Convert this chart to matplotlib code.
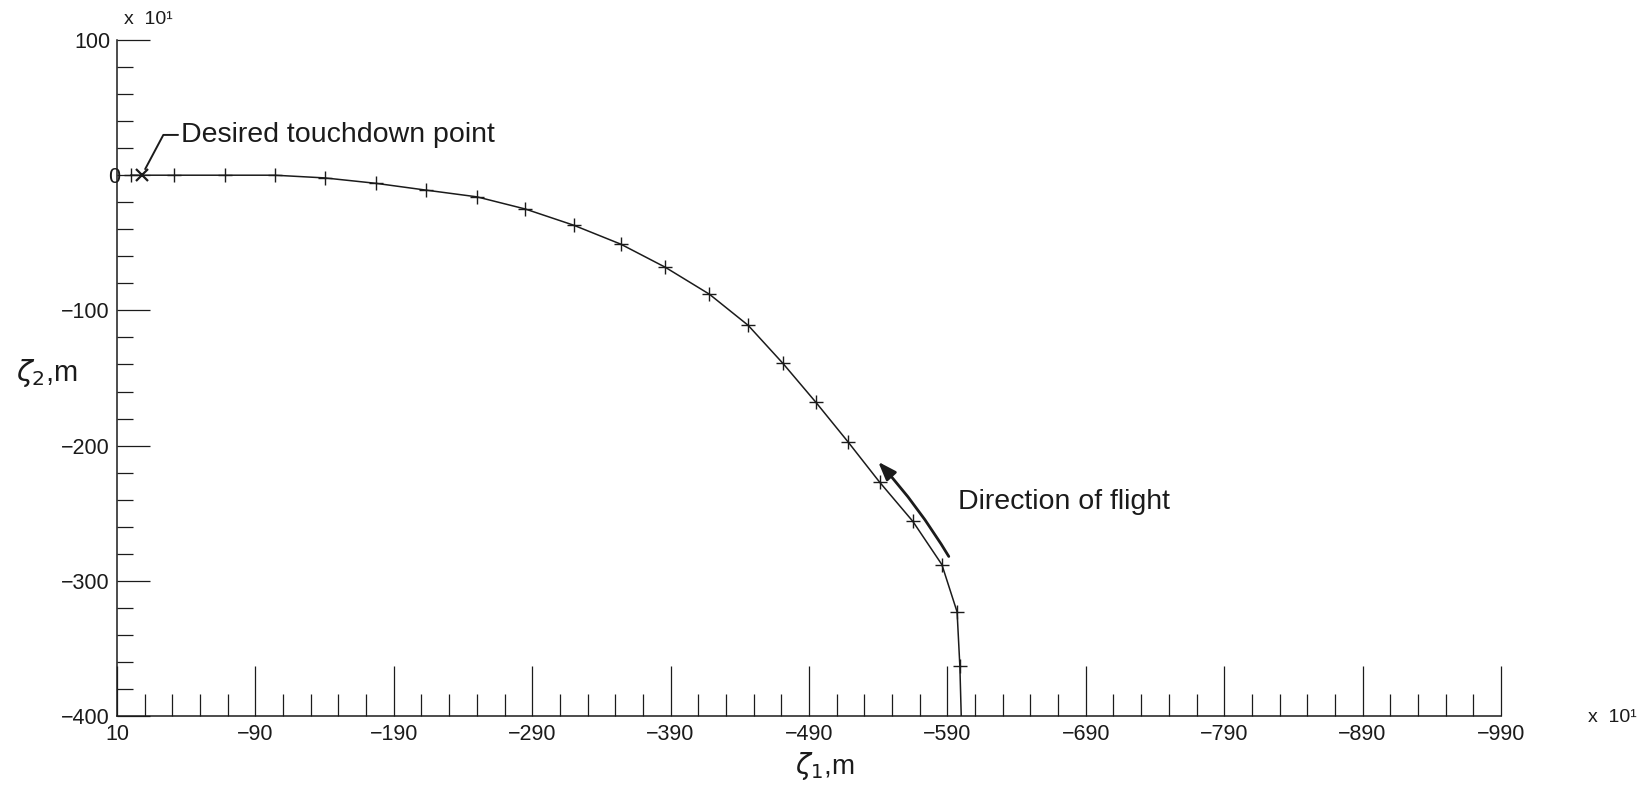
import numpy as np
import matplotlib
matplotlib.use("Agg")
import matplotlib.pyplot as plt
from matplotlib.ticker import FixedLocator, FixedFormatter
import matplotlib.transforms as mtransforms

# Approach ground track (units of 10 m); last point is where the track meets the lower axis
zeta1 = [0, -31, -68, -104, -140, -177, -213, -250, -285, -320, -354, -386,
         -418, -446, -471, -495, -518, -541, -565, -586, -597, -599, -600]
zeta2 = [0, 0, 0, 0, -2, -6, -11, -16, -25, -37, -51, -68,
         -88, -111, -139, -168, -197, -227, -256, -288, -323, -363, -400]

# Desired touchdown point
touch_z1 = [-8]
touch_z2 = [0]

# Direction-of-flight arrow (tail, head)
arrow_tail = (-591, -282)
arrow_head = (-540, -212)

x_ticks = [10, -90, -190, -290, -390, -490, -590, -690, -790, -890, -990]
x_labels = ["10", "\u221290", "\u2212190", "\u2212290", "\u2212390", "\u2212490",
            "\u2212590", "\u2212690", "\u2212790", "\u2212890", "\u2212990"]
y_ticks = [100, 0, -100, -200, -300, -400]
y_labels = ["100", "0", "\u2212100", "\u2212200", "\u2212300", "\u2212400"]

INK = "#1b1b1b"
NARROW = ["Liberation Sans Narrow", "Liberation Sans", "DejaVu Sans"]
SANS = ["Liberation Sans", "DejaVu Sans"]

W, H = 1649, 792
fig = plt.figure(figsize=(W / 100, H / 100), dpi=100)
left, right, top, bottom = 117, 1501, 40, 716
ax = fig.add_axes([left / W, 1 - bottom / H, (right - left) / W, (bottom - top) / H])

ax.set_xlim(10, -990)
ax.set_ylim(-400, 100)

for s in ("top", "right"):
    ax.spines[s].set_visible(False)
for s in ("left", "bottom"):
    ax.spines[s].set_linewidth(1.1)
    ax.spines[s].set_color(INK)

ax.xaxis.set_major_locator(FixedLocator(x_ticks))
ax.xaxis.set_major_formatter(FixedFormatter(x_labels))
ax.xaxis.set_minor_locator(FixedLocator(np.arange(10, -991, -20)))
ax.yaxis.set_major_locator(FixedLocator(y_ticks))
ax.yaxis.set_major_formatter(FixedFormatter(y_labels))
ax.yaxis.set_minor_locator(FixedLocator(np.arange(100, -401, -20)))

ax.tick_params(axis="x", which="major", direction="in", length=36, width=0.9,
               color=INK, pad=6, labelsize=15.5, labelcolor=INK)
ax.tick_params(axis="x", which="minor", direction="in", length=16, width=0.9, color=INK)
ax.tick_params(axis="y", which="major", direction="in", length=24, width=0.9,
               color=INK, pad=5, labelsize=15.5, labelcolor=INK)
ax.tick_params(axis="y", which="minor", direction="in", length=11.5, width=0.9, color=INK)
for lab in ax.get_xticklabels() + ax.get_yticklabels():
    lab.set_family(NARROW)

# the zero label sits right on the axis line
zero_lab = ax.get_yticklabels()[1]
zero_lab.set_transform(zero_lab.get_transform() +
                       mtransforms.ScaledTranslation(7 / 72, 0, fig.dpi_scale_trans))

# flight path with time marks
ax.plot(zeta1, zeta2, color=INK, lw=1.1, marker="+", markersize=10, mew=1.0,
        markevery=list(range(len(zeta1) - 1)), zorder=3)
ax.plot(touch_z1, touch_z2, linestyle="none", marker="x", markersize=8.5, mew=1.6,
        color=INK, zorder=4)

ax.annotate("Desired touchdown point", xy=(touch_z1[0], touch_z2[0]),
            xytext=(28, 29), textcoords="offset points", ha="left", va="center",
            fontsize=20.5, family=SANS, color=INK,
            arrowprops=dict(arrowstyle="-", lw=1.4, color=INK, relpos=(0, 0.5),
                            connectionstyle="angle,angleA=0,angleB=62,rad=0",
                            shrinkA=0, shrinkB=5))

ax.annotate("", xy=arrow_head, xytext=arrow_tail,
            arrowprops=dict(arrowstyle="-|>,head_length=0.55,head_width=0.2",
                            mutation_scale=20, lw=2.0, color=INK,
                            connectionstyle="arc3,rad=0.05", shrinkA=0, shrinkB=0))
ax.text(-598, -242, "Direction of flight", ha="left", va="center",
        fontsize=20.5, family=SANS, color=INK)

# axis titles and scale factors
fig.text(825 / W, 1 - 766 / H, r"$\zeta_1$,m", ha="center", va="center",
         fontsize=20, family=SANS, color=INK)
fig.text(47 / W, 1 - 373 / H, r"$\zeta_2$,m", ha="center", va="center",
         fontsize=21, family=SANS, color=INK)
fig.text(148 / W, 1 - 20 / H, "x  10\u00b9", ha="center", va="center",
         fontsize=14, family=NARROW, color=INK)
fig.text(1612 / W, 1 - 718 / H, "x  10\u00b9", ha="center", va="center",
         fontsize=14, family=NARROW, color=INK)

fig.savefig("out.png", dpi=100, facecolor="white")
